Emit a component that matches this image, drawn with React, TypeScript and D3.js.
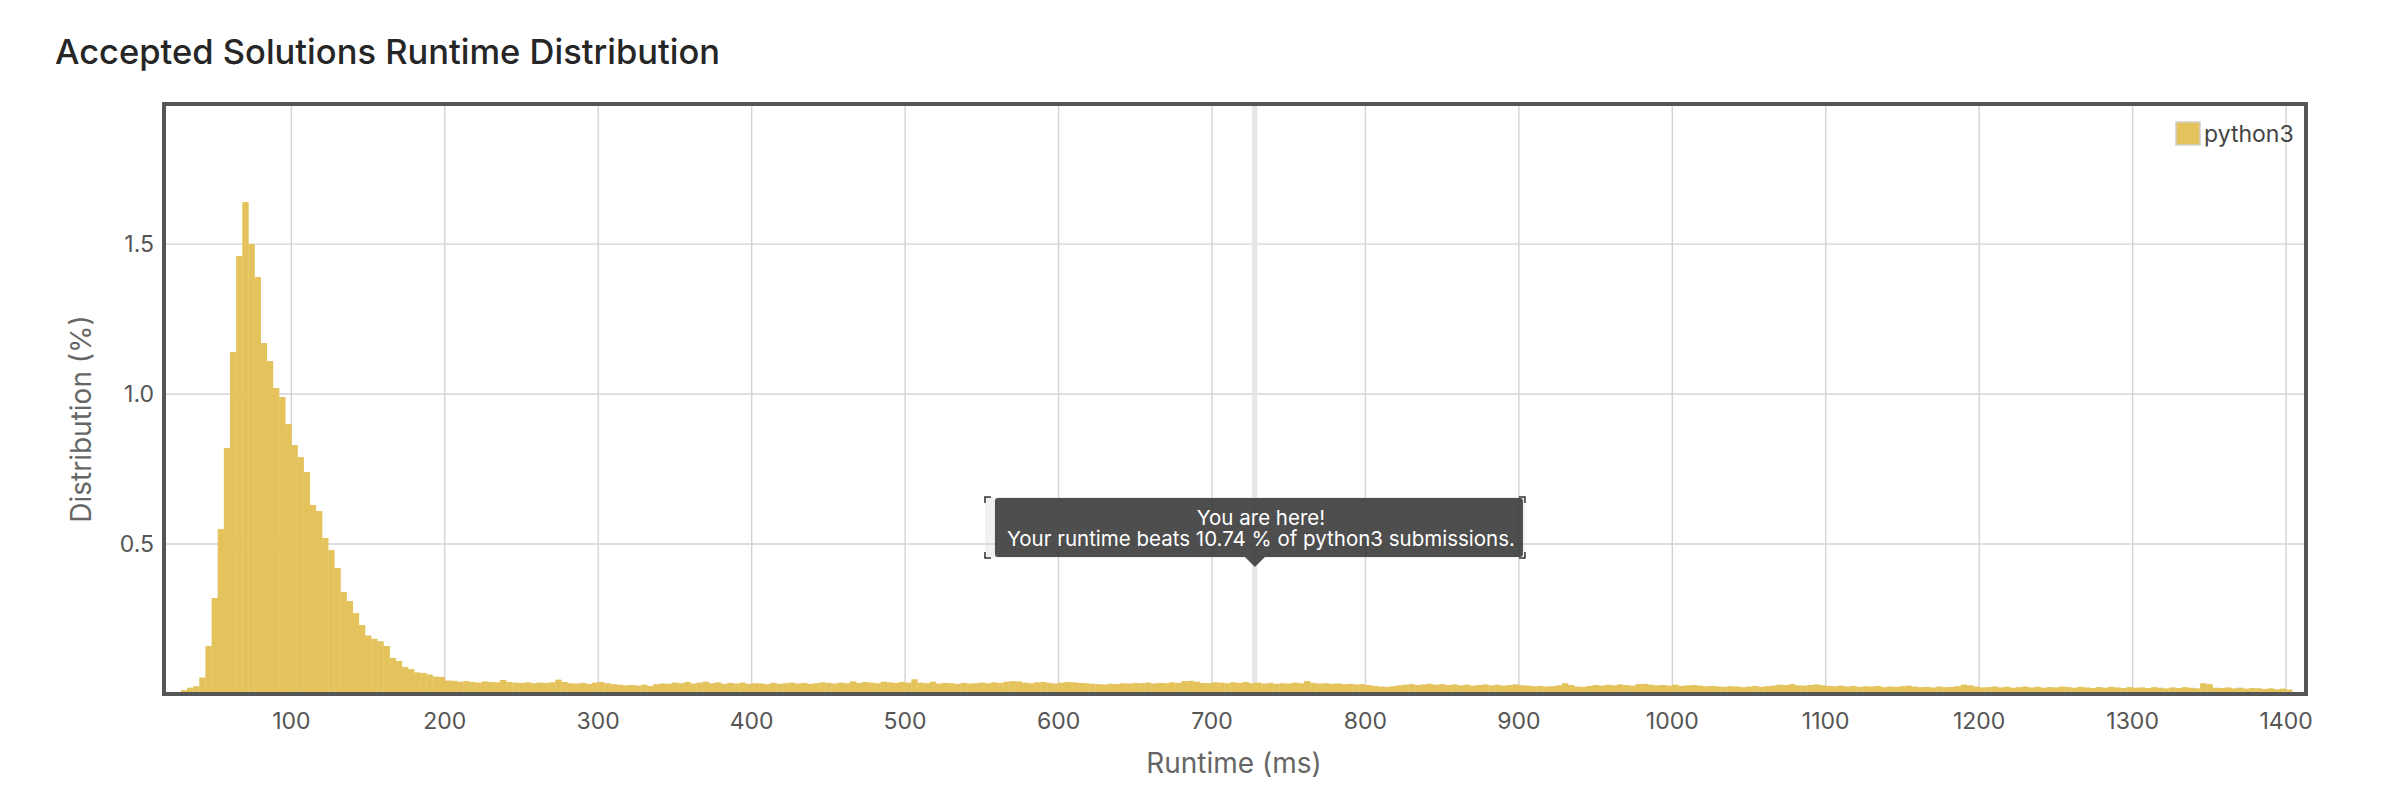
import * as d3 from 'd3';

// Runtime histogram: 4 ms bins starting at 28 ms, share of submissions in %
const binStart = 28;
const binWidth = 4;
const runtimeShare = [
  // 28 - 200 ms
  0.013, 0.021, 0.026, 0.055, 0.16, 0.32, 0.55, 0.82, 1.14, 1.46, 1.64, 1.5, 1.39, 1.17, 1.11,
  1.02, 0.99, 0.9, 0.83, 0.79, 0.74, 0.63, 0.61, 0.52, 0.48, 0.42, 0.34, 0.31, 0.27, 0.23,
  0.195, 0.184, 0.176, 0.16, 0.12, 0.11, 0.09, 0.083, 0.072, 0.07, 0.065, 0.058, 0.057, 0.045,
  // 204 - 300
  0.044, 0.041, 0.043, 0.04, 0.038, 0.042, 0.04, 0.039, 0.047, 0.04, 0.038, 0.037, 0.039,
  0.036, 0.038, 0.037, 0.039, 0.048, 0.04, 0.036, 0.035, 0.037, 0.034, 0.038, 0.04,
  // 304 - 400
  0.036, 0.033, 0.031, 0.029, 0.03, 0.028, 0.031, 0.027, 0.033, 0.035, 0.034, 0.038, 0.036,
  0.04, 0.035, 0.038, 0.041, 0.036, 0.039, 0.034, 0.037, 0.035, 0.038, 0.034, 0.036,
  // 404 - 500
  0.035, 0.033, 0.037, 0.034, 0.036, 0.038, 0.035, 0.037, 0.034, 0.036, 0.039, 0.037, 0.035,
  0.038, 0.036, 0.042, 0.037, 0.04, 0.038, 0.036, 0.041, 0.039, 0.037, 0.04, 0.038,
  // 504 - 600
  0.049, 0.038, 0.036, 0.041, 0.035, 0.037, 0.036, 0.034, 0.037, 0.035, 0.036, 0.038, 0.036,
  0.039, 0.037, 0.041, 0.043, 0.042, 0.038, 0.036, 0.039, 0.04, 0.037, 0.035, 0.038,
  // 604 - 700
  0.04, 0.039, 0.037, 0.036, 0.034, 0.033, 0.032, 0.034, 0.033, 0.036, 0.035, 0.037, 0.036,
  0.038, 0.035, 0.037, 0.036, 0.039, 0.037, 0.043, 0.044, 0.041, 0.037, 0.036, 0.039,
  // 704 - 800
  0.038, 0.036, 0.039, 0.037, 0.04, 0.036, 0.038, 0.035, 0.037, 0.034, 0.036, 0.035, 0.038,
  0.036, 0.043, 0.037, 0.035, 0.036, 0.034, 0.035, 0.033, 0.034, 0.032, 0.033, 0.03,
  // 804 - 900
  0.027, 0.025, 0.024, 0.026, 0.029, 0.031, 0.033, 0.03, 0.032, 0.034, 0.031, 0.033, 0.03,
  0.032, 0.029, 0.031, 0.028, 0.03, 0.032, 0.029, 0.031, 0.028, 0.03, 0.032, 0.029,
  // 904 - 1000
  0.028, 0.026, 0.027, 0.025, 0.026, 0.029, 0.036, 0.03, 0.025, 0.024, 0.027, 0.03, 0.028,
  0.031, 0.029, 0.032, 0.03, 0.028, 0.033, 0.034, 0.031, 0.029, 0.03, 0.028, 0.031,
  // 1004 - 1100
  0.027, 0.029, 0.03, 0.028, 0.026, 0.027, 0.025, 0.024, 0.026, 0.025, 0.023, 0.025, 0.027,
  0.024, 0.026, 0.028, 0.031, 0.03, 0.033, 0.029, 0.028, 0.03, 0.032, 0.029, 0.027,
  // 1104 - 1200
  0.026, 0.028, 0.025, 0.027, 0.024, 0.026, 0.025, 0.027, 0.023, 0.025, 0.024, 0.026, 0.028,
  0.025, 0.023, 0.024, 0.022, 0.025, 0.023, 0.024, 0.026, 0.031, 0.029, 0.025, 0.022,
  // 1204 - 1300
  0.023, 0.025, 0.022, 0.024, 0.021, 0.023, 0.025, 0.022, 0.024, 0.021, 0.023, 0.022, 0.025,
  0.023, 0.021, 0.024, 0.022, 0.02, 0.023, 0.021, 0.024, 0.022, 0.02, 0.023, 0.021,
  // 1304 - 1400
  0.022, 0.02, 0.023, 0.021, 0.019, 0.022, 0.02, 0.023, 0.021, 0.019, 0.036, 0.033, 0.021,
  0.02, 0.022, 0.019, 0.021, 0.018, 0.02, 0.019, 0.017, 0.019, 0.016, 0.018, 0.015,
];

const xTicks = [100, 200, 300, 400, 500, 600, 700, 800, 900, 1000, 1100, 1200, 1300, 1400];
const yTicks = [0.5, 1.0, 1.5];
const seriesName = 'python3';
const yourRuntime = 728;
const beatsPercent = 10.74;

const W = 2390;
const H = 812;
const FONT = 'Inter, "Noto Sans", sans-serif';
const BAR = '#e5c35c';

export default function App() {
  const x = d3.scaleLinear().domain([17, 1413]).range([164, 2306]);
  const y = d3.scaleLinear().domain([0, 1.967]).range([694, 104]);
  const [x0, x1] = x.range();
  const [yb, yt] = y.range();

  const bars = runtimeShare.map((v, i) => {
    const a = x(binStart + i * binWidth);
    const b = x(binStart + (i + 1) * binWidth);
    return { x: a, w: b - a, y: y(v), h: y(0) - y(v) };
  });

  // tooltip geometry, anchored on the highlighted runtime
  const tipX = x(yourRuntime);
  const tipW = 540;
  const tipTop = 497;
  const tipH = 61;
  const tipL = tipX - tipW / 2;
  const corner = 6;

  return (
    <svg
      width={W}
      height={H}
      style={{ position: 'absolute', left: 0, top: 0, display: 'block', background: '#fff' }}
      fontFamily={FONT}
    >
      <text x={55} y={64} fontSize={34.5} fontWeight={500} fill="#262626">
        Accepted Solutions Runtime Distribution
      </text>

      {/* grid */}
      {xTicks.map((t) => (
        <line key={`gx${t}`} x1={x(t)} x2={x(t)} y1={yt} y2={yb} stroke="#d3d3d3" strokeWidth={1.4} />
      ))}
      {yTicks.map((t) => (
        <line key={`gy${t}`} x1={x0} x2={x1} y1={y(t)} y2={y(t)} stroke="#d3d3d3" strokeWidth={1.4} />
      ))}

      {/* highlighted runtime column */}
      <rect x={x(yourRuntime - 2)} y={yt} width={x(yourRuntime + 1.5) - x(yourRuntime - 2)} height={yb - yt} fill="#e6e6e6" />

      {bars.map((d, i) => (
        <rect key={i} x={d.x} y={d.y} width={d.w + 0.3} height={d.h} fill={BAR} />
      ))}

      {/* frame */}
      <rect x={x0} y={yt} width={x1 - x0} height={yb - yt} fill="none" stroke="#555" strokeWidth={4} />

      {/* y axis */}
      {yTicks.map((t) => (
        <text key={`ty${t}`} x={154} y={y(t)} dy="0.35em" textAnchor="end" fontSize={23} fill="#555">
          {d3.format('.1f')(t)}
        </text>
      ))}
      <text
        transform={`translate(81,419) rotate(-90)`}
        textAnchor="middle"
        dy="0.35em"
        fontSize={28}
        fill="#666"
      >
        Distribution (%)
      </text>

      {/* x axis */}
      {xTicks.map((t) => (
        <text key={`tx${t}`} x={x(t)} y={721} dy="0.35em" textAnchor="middle" fontSize={23} fill="#555">
          {t}
        </text>
      ))}
      <text x={1234} y={763} dy="0.35em" textAnchor="middle" fontSize={28} fill="#666">
        Runtime (ms)
      </text>

      {/* legend */}
      <rect x={2176} y={122} width={24} height={23} fill={BAR} stroke="#cfcfcf" strokeWidth={1.5} />
      <text x={2204} y={134} dy="0.35em" fontSize={23} fill="#444">
        {seriesName}
      </text>

      {/* tooltip */}
      <g>
        <rect x={tipL} y={tipTop} width={tipW} height={tipH} fill="rgba(215,215,215,0.35)" />
        <rect x={tipL + 10} y={tipTop + 1} width={tipW - 12} height={tipH - 2} rx={3} fill="rgba(55,55,55,0.88)" />
        <path
          d={`M${tipX - 10},${tipTop + tipH - 1} L${tipX},${tipTop + tipH + 9} L${tipX + 10},${tipTop + tipH - 1} Z`}
          fill="rgba(55,55,55,0.88)"
        />
        {[
          [tipL, tipTop, 1, 1],
          [tipL + tipW, tipTop, -1, 1],
          [tipL, tipTop + tipH, 1, -1],
          [tipL + tipW, tipTop + tipH, -1, -1],
        ].map(([cx, cy, sx, sy], i) => (
          <path
            key={i}
            d={`M${cx + sx * corner},${cy} L${cx},${cy} L${cx},${cy + sy * corner}`}
            fill="none"
            stroke="#333"
            strokeWidth={1.5}
          />
        ))}
        <text x={tipX + 6} y={525} textAnchor="middle" fontSize={20.5} fill="#fff">
          You are here!
        </text>
        <text x={tipX + 6} y={546} textAnchor="middle" fontSize={20.5} fill="#fff">
          {`Your runtime beats ${beatsPercent} % of ${seriesName} submissions.`}
        </text>
      </g>
    </svg>
  );
}
